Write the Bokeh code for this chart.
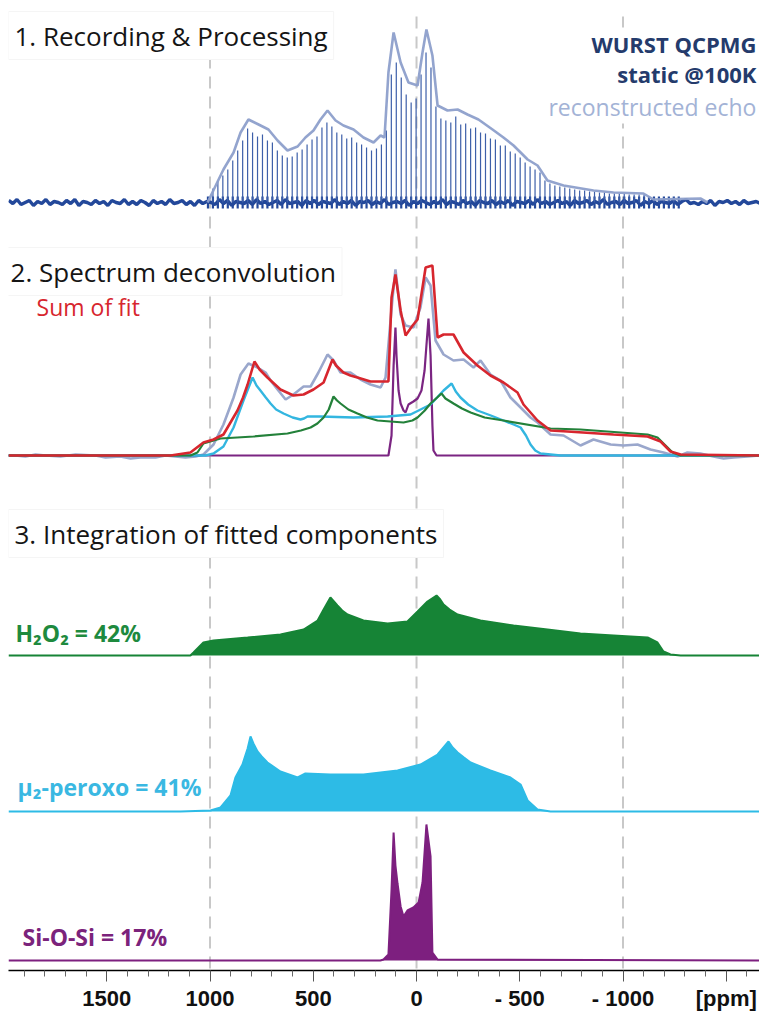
from bokeh.plotting import figure
from bokeh.models import Range1d, FixedTicker, Label
from bokeh.embed import file_html
from bokeh.resources import INLINE

# ---------------- data (ppm, intensity) ----------------
# Panel 1: reconstructed echo envelope
env_ppm = [1012, 935, 886, 852, 814, 765, 717, 673, 625, 576, 538, 499, 465, 431, 392,
           354, 305, 257, 208, 174, 155, 136, 111, 77, 39, -5, -29, -48, -77, -102,
           -150, -199, -247, -300, -368, -421, -470, -538, -586, -634, -712, -857, -954,
           -1099, -1148, -1375, -1409]
env_int = [0, 33, 50, 70, 83, 78, 73, 62, 52, 56, 65, 72, 83, 92, 82,
           77, 73, 65, 60, 67, 65, 130, 170, 140, 120, 117, 150, 173, 147, 97,
           92, 93, 88, 83, 73, 65, 57, 43, 37, 22, 17, 12, 10,
           9, 3, 4, 0]

# Panel 1: QCPMG spikelets
spk_ppm = [1010, 986, 962, 938, 914, 890, 866, 842, 818, 794, 770, 746, 722, 698, 674, 650,
           626, 602, 578, 554, 530, 506, 482, 458, 434, 410, 386, 362, 338, 314, 290, 266,
           242, 218, 194, 170, 146, 122, 98, 74, 50, 26, 2, -22, -46, -70, -94, -118,
           -142, -166, -190, -214, -238, -262, -286, -310, -334, -358, -382, -406, -430, -454,
           -478, -502, -526, -550, -574, -598, -622, -646, -670, -694, -718, -742, -766, -790,
           -814, -838, -862, -886, -910, -934, -958, -982, -1006, -1030, -1054, -1078, -1102,
           -1126, -1150, -1174, -1198, -1222, -1246, -1270]
spk_int = [0, 14, 22, 27, 33, 42, 52, 62, 74, 70, 66, 68, 62, 60, 52, 47,
           45, 46, 50, 53, 58, 63, 66, 75, 80, 76, 70, 68, 64, 65, 60, 58,
           55, 52, 54, 58, 72, 128, 140, 125, 108, 100, 104, 128, 150, 135, 96, 84,
           82, 80, 86, 78, 79, 74, 75, 70, 69, 64, 63, 57, 57, 51,
           49, 45, 40, 36, 33, 30, 22, 19, 17, 16, 15, 14, 13, 12,
           12, 11, 11, 10, 10, 9, 9, 9, 9, 8, 8, 8, 8,
           6, 4, 3, 3, 3, 2, 2]

# Panel 1: baseline noise (sampled every 20 ppm from 1975 ppm)
noise_ppm = list(range(1975, -1670, -20))
noise_int = [2, -1, 3, -2, 0, 2, -3, 1, -1, 3, -2, 1, 0, -2, 2, -1, 3, -3, 1, 0,
             -2, 2, -1, 1, -3, 2, 0, -1, 3, -2, 1, -2, 2, 0, -3, 2, -1, 1, -2, 3,
             -1, 0, 2, -2, 1, -3, 2, -1, 1, 0, -2, 3, -1, 2, -3, 1, 0, -1, 2, -2,
             3, -1, 1, -2, 0, 2, -2, 3, -1, 0, 1, -3, 2, -1, 2, -2, 1, 0, -1, 3,
             -2, 1, -1, 2, -3, 1, 0, 2, -2, 1, -1, 3, -2, 0, 1, -1, 2, -3, 1, -1,
             2, 0, -2, 1, -1, 3, -2, 1, 0, -2, 2, -1, 1, -3, 2, 0, -1, 2, -2, 1,
             -1, 2, -3, 1, 0, -1, 2, -2, 3, -1, 1, -2, 0, 2, -1, 1, -3, 2, -1, 0,
             2, -2, 1, -1, 3, -2, 0, 1, -2, 2, -1, 0, 2, -3, 1, -1, 2, -2, 1, 0,
             -1, 2, -2, 1, 3, -1, 0, -2, 1, -1, 2, -3, 1, 0, 2, -1, 1, -2, 2, -1,
             0, 1, -1]

# Panel 2: experimental spectrum
exp_ppm = [1976, 1942, 1894, 1845, 1797, 1724, 1651, 1555, 1506, 1434, 1385, 1337, 1264, 1216,
           1167, 1119, 1070, 1032, 983, 935, 886, 852, 814, 770, 731, 707, 673, 634, 596, 547,
           513, 475, 431, 402, 368, 320, 271, 223, 174, 150, 116, 102, 77, 53, 15, -19, -44,
           -68, -92, -131, -179, -228, -276, -310, -358, -407, -455, -504, -552, -586, -649,
           -712, -794, -857, -940, -1003, -1070, -1133, -1196, -1264, -1312, -1375, -1438,
           -1487, -1535, -1603, -1661]
exp_int = [0, 0, -1, 1, 0, -1, 1, 0, -2, -1, -3, -2, -2, 0,
           -1, -2, -1, 1, 11, 31, 58, 81, 92, 88, 83, 75, 66, 56, 61, 69,
           69, 83, 101, 95, 83, 83, 76, 71, 68, 78, 158, 186, 141, 130, 128, 148, 178,
           170, 115, 101, 95, 96, 88, 95, 81, 75, 58, 48, 38, 33, 21,
           20, 10, 16, 11, 10, 11, 6, 3, -1, 3, 2, -1,
           -3, -2, -1, 0]

# Panel 2: sum of fit
sum_ppm = [1976, 1191, 1095, 1032, 983, 935, 867, 840, 818, 785, 760, 722, 659, 596, 547, 499,
           450, 407, 390, 354, 320, 286, 223, 136, 121, 102, 77, 53, 19, -5, -44, -77, -102,
           -131, -179, -228, -295, -358, -421, -489, -518, -586, -649, -731, -954, -1119,
           -1182, -1230, -1279, -1661]
sum_int = [0, 0, 3, 13, 16, 21, 45, 58, 71, 94, 86, 78, 66, 60, 61, 66,
           73, 96, 90, 83, 80, 78, 74, 74, 158, 181, 145, 120, 130, 136, 188, 190, 118,
           121, 121, 103, 90, 80, 73, 63, 51, 35, 25, 24, 21, 19,
           14, 4, 1, 0]

# Panel 2: fitted components
h2o2_fit_ppm = [1976, 1095, 1061, 1032, 949, 789, 625, 560, 513, 480, 450, 425, 402, 385, 368,
                330, 286, 240, 189, 63, 20, -5, -40, -68, -100, -121, -140, -179, -220, -262,
                -330, -421, -649, -794, -1119, -1167, -1206, -1240, -1279, -1661]
h2o2_fit_int = [0, 0, 3, 12, 17, 19, 22, 25, 28, 32, 38, 46, 59, 55, 52,
                46, 42, 38, 35, 33, 35, 38, 45, 52, 58, 62, 57, 52, 47, 43,
                38, 35, 27, 26, 21, 18, 10, 3, 0, 0]
perox_fit_ppm = [1976, 1022, 983, 935, 886, 838, 794, 775, 756, 730, 707, 680, 644, 600, 562,
                 545, 528, 465, 305, 140, 29, -68, -131, -170, -190, -213, -250, -295, -360,
                 -421, -470, -504, -530, -552, -575, -601, -697, -1661]
perox_fit_int = [0, 0, 2, 9, 28, 55, 78, 70, 65, 58, 52, 46, 42, 38, 36,
                 37, 39, 39, 38, 39, 41, 51, 65, 72, 64, 58, 51, 45, 40,
                 35, 31, 28, 20, 11, 5, 2, 0, 0]
sios_fit_ppm = [1976, 136, 121, 111, 102, 97, 87, 77, 63, 53, 39, 15, -5, -24, -39, -48,
                -58, -68, -77, -82, -97, -1661]
sios_fit_int = [0, 0, 20, 90, 128, 100, 65, 52, 45, 43, 51, 54, 57, 65, 85, 110,
                137, 100, 30, 5, 0, 0]

# Panel 3: integrated components
h2o2_ppm = [1976, 1095, 1080, 1032, 983, 818, 659, 547, 479, 450, 417, 400, 383, 360, 334,
            257, 140, 44, -5, -53, -97, -115, -131, -160, -199, -310, -470, -634, -794, -954,
            -1119, -1167, -1196, -1230, -1279, -1661]
h2o2_int = [0, 0, 3, 13, 15, 18, 21, 26, 35, 46, 58, 54, 50, 45, 41,
            35, 32, 34, 44, 54, 60, 56, 51, 46, 41, 35, 30, 26, 22, 20,
            18, 13, 4, 1, 0, 0]
perox_ppm = [1976, 1143, 998, 949, 901, 877, 843, 818, 804, 790, 770, 750, 722, 659, 576,
             538, 417, 257, 92, -19, -102, -155, -175, -199, -230, -262, -358, -455, -504,
             -538, -586, -649, -1661]
perox_int = [0, 0, 1, 4, 16, 34, 47, 63, 75, 68, 60, 55, 49, 40, 34,
             38, 37, 37, 41, 47, 57, 70, 64, 59, 54, 49, 41, 34, 27,
             11, 2, 0, 0]
sios_ppm = [1976, 175, 160, 136, 121, 111, 102, 92, 77, 63, 44, 15, -10, -29, -48, -68,
            -77, -102, -1661]
sios_int = [0, 0, 1, 6, 71, 128, 95, 77, 54, 44, 50, 53, 58, 78, 136, 104,
            8, 1, 0]

ref_ppm = [1000, 0, -1000]
tick_ppm = [1500, 1000, 500, 0, -500, -1000, -1500]
tick_labels = ["1500", "1000", "500", "0", "- 500", "- 1000", "[ppm]"]
minor_ppm = [1900, 1800, 1700, 1600, 1400, 1300, 1200, 1100, 900, 800, 700, 600, 400, 300,
             200, 100, -100, -200, -300, -400, -600, -700, -800, -900, -1100, -1200, -1300,
             -1400, -1600]

# ---------------- layout constants (vertical offsets of each trace) ----------------
B1, B2, B_H, B_P, B_S = 768, 515, 315, 159, 10

def up(base, vals):
    return [base + v for v in vals]

p = figure(frame_width=751, frame_height=960,
           x_range=Range1d(1976, -1661), y_range=Range1d(0, 960),
           output_backend="svg", toolbar_location=None,
           min_border_left=8, min_border_right=0, min_border_top=10, min_border_bottom=0,
           background_fill_color="white", border_fill_color="white")
p.outline_line_color = None
p.grid.visible = False
p.yaxis.visible = False

ax = p.xaxis[0]
ax.ticker = FixedTicker(ticks=tick_ppm, minor_ticks=minor_ppm)
ax.major_label_overrides = {t: l for t, l in zip(tick_ppm, tick_labels)}
ax.axis_line_color = "black"
ax.axis_line_width = 1.5
ax.major_tick_line_color = "#555555"
ax.minor_tick_line_color = "#666666"
ax.major_tick_out = 11
ax.major_tick_in = 0
ax.minor_tick_out = 6
ax.minor_tick_in = 0
ax.major_label_standoff = 4
ax.major_label_text_font = "Liberation Sans"
ax.major_label_text_font_style = "bold"
ax.major_label_text_font_size = "22px"
ax.major_label_text_color = "#111111"

# dashed reference lines
p.segment(x0=ref_ppm, y0=[2] * 3, x1=ref_ppm, y1=[955] * 3,
          line_color="#c8c8c8", line_width=2, line_dash="12 8")

# ---- panel 1 ----
p.line(noise_ppm, up(B1, noise_int), line_color="#23489a", line_width=3.4)
p.segment(x0=spk_ppm, y0=[B1 - 6] * len(spk_ppm), x1=spk_ppm, y1=[B1 + 6] * len(spk_ppm),
          line_color="#23489a", line_width=2.2)
p.segment(x0=spk_ppm, y0=[B1] * len(spk_ppm), x1=spk_ppm, y1=up(B1, spk_int),
          line_color="#3d5fa9", line_width=1.2)
p.line(env_ppm, up(B1, env_int), line_color="#8d9fcb", line_width=2.6, line_alpha=0.95)

# ---- panel 2 ----
p.line(exp_ppm, up(B2, exp_int), line_color="#9aa7cc", line_width=2.6)
p.line(sios_fit_ppm, up(B2, sios_fit_int), line_color="#7b2582", line_width=2.2)
p.line(perox_fit_ppm, up(B2, perox_fit_int), line_color="#33b6e0", line_width=2.4)
p.line(h2o2_fit_ppm, up(B2, h2o2_fit_int), line_color="#23813a", line_width=2.2)
p.line(sum_ppm, up(B2, sum_int), line_color="#d7262e", line_width=2.6)

# ---- panel 3 ----
for xs, vs, base, col in [(h2o2_ppm, h2o2_int, B_H, "#168436"),
                          (perox_ppm, perox_int, B_P, "#2dbbe6"),
                          (sios_ppm, sios_int, B_S, "#7d1f7f")]:
    p.varea(x=xs, y1=[base] * len(xs), y2=up(base, vs), fill_color=col)
    p.line(xs, up(base, vs), line_color=col, line_width=2)

# ---------------- texts ----------------
def lab(text, x, y, color, size, style="normal", align="left", box=None):
    kw = {}
    if box == "title":
        kw = dict(background_fill_color="white", border_line_color="#f5f5f5", padding=6)
    elif box == "plain":
        kw = dict(background_fill_color="white", padding=1)
    p.add_layout(Label(x=x, y=y, text=text, text_color=color, text_font="Open Sans",
                       text_font_size=f"{size}px", text_font_style=style,
                       text_align=align, text_baseline="middle", **kw))

lab("1. Recording & Processing", 1976, 935, "#151515", 26, box="title")
lab("2. Spectrum deconvolution", 1995, 699, "#151515", 26, box="title")
lab("3. Integration of fitted components", 1976, 437, "#151515", 26, box="title")
lab("WURST QCPMG", -1651, 927, "#243b6c", 22, "bold", "right", box="plain")
lab("static @100K", -1651, 897, "#243b6c", 22, "bold", "right", box="plain")
lab("reconstructed echo", -1651, 864, "#a3b3d6", 23, "normal", "right", box="plain")
lab("Sum of fit", 1840, 664, "#d7262e", 23)
lab("H\u2082O\u2082 = 42%", 1942, 338, "#1e8a3e", 23, "bold")
lab("\u03bc\u2082-peroxo = 41%", 1932, 184, "#3ab8e2", 23, "bold")
lab("Si-O-Si = 17%", 1908, 34, "#7b237b", 23, "bold")

open("out.html", "w").write(file_html(p, INLINE))
